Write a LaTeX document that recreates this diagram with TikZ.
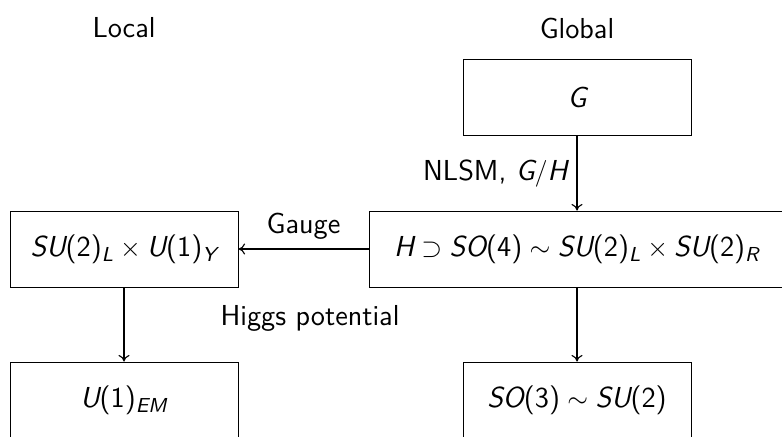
\documentclass[tikz,border=0pt]{standalone}
\usetikzlibrary{arrows.meta}
% sans serif math, slanted letters
\DeclareSymbolFont{sfletters}{TU}{lmss}{m}{sl}
\SetSymbolFont{operators}{normal}{TU}{lmss}{m}{n}
\DeclareMathSymbol{E}{\mathalpha}{sfletters}{`E}
\DeclareMathSymbol{G}{\mathalpha}{sfletters}{`G}
\DeclareMathSymbol{H}{\mathalpha}{sfletters}{`H}
\DeclareMathSymbol{L}{\mathalpha}{sfletters}{`L}
\DeclareMathSymbol{M}{\mathalpha}{sfletters}{`M}
\DeclareMathSymbol{O}{\mathalpha}{sfletters}{`O}
\DeclareMathSymbol{R}{\mathalpha}{sfletters}{`R}
\DeclareMathSymbol{S}{\mathalpha}{sfletters}{`S}
\DeclareMathSymbol{U}{\mathalpha}{sfletters}{`U}
\DeclareMathSymbol{Y}{\mathalpha}{sfletters}{`Y}

\begin{document}
\begin{tikzpicture}[
  x=0.45pt,
  y=0.45pt,
  every node/.style={font=\fontsize{13}{15}\selectfont\sffamily},
  groupbox/.style={draw, line width=0.4pt, minimum width=102.6pt,
                   minimum height=34.2pt, inner sep=0pt},
  widebox/.style={groupbox, minimum width=187.2pt},
  flow/.style={line width=0.5pt, -{To[length=3pt,width=5pt]}},
  flowlabel/.style={inner sep=4pt}
]
  % ---- page frame (the lower boxes run off the page) ----
  \useasboundingbox (0,0) rectangle (782,436);
  \clip (0,0) rectangle (782,436);

  % ---- column titles ----
  \node (local)  at (124,408) {Local};
  \node (global) at (577,408) {Global};

  % ---- global column ----
  \node[groupbox] (g)  at (577,339) {$G$};
  \node[widebox]  (h)  at (577,187) {$H \supset SO(4) \sim SU(2)_L \times SU(2)_R$};
  \node[groupbox] (so) at (577,36)  {$SO(3) \sim SU(2)$};

  % ---- local column ----
  \node[groupbox] (su)  at (124,187) {$SU(2)_L \times U(1)_Y$};
  \node[groupbox] (uem) at (124,36)  {$U(1)_{EM}$};

  % ---- arrows ----
  \draw[flow] (g) -- node[left, flowlabel] {NLSM, $G/H$} (h);
  \draw[flow] (h) -- node[above, flowlabel] {Gauge} (su);
  \draw[flow] (su) -- (uem);
  \draw[flow] (h) -- (so);

  % ---- symmetry breaking label ----
  \node (higgs) at (310,118) {Higgs potential};
\end{tikzpicture}
\end{document}
